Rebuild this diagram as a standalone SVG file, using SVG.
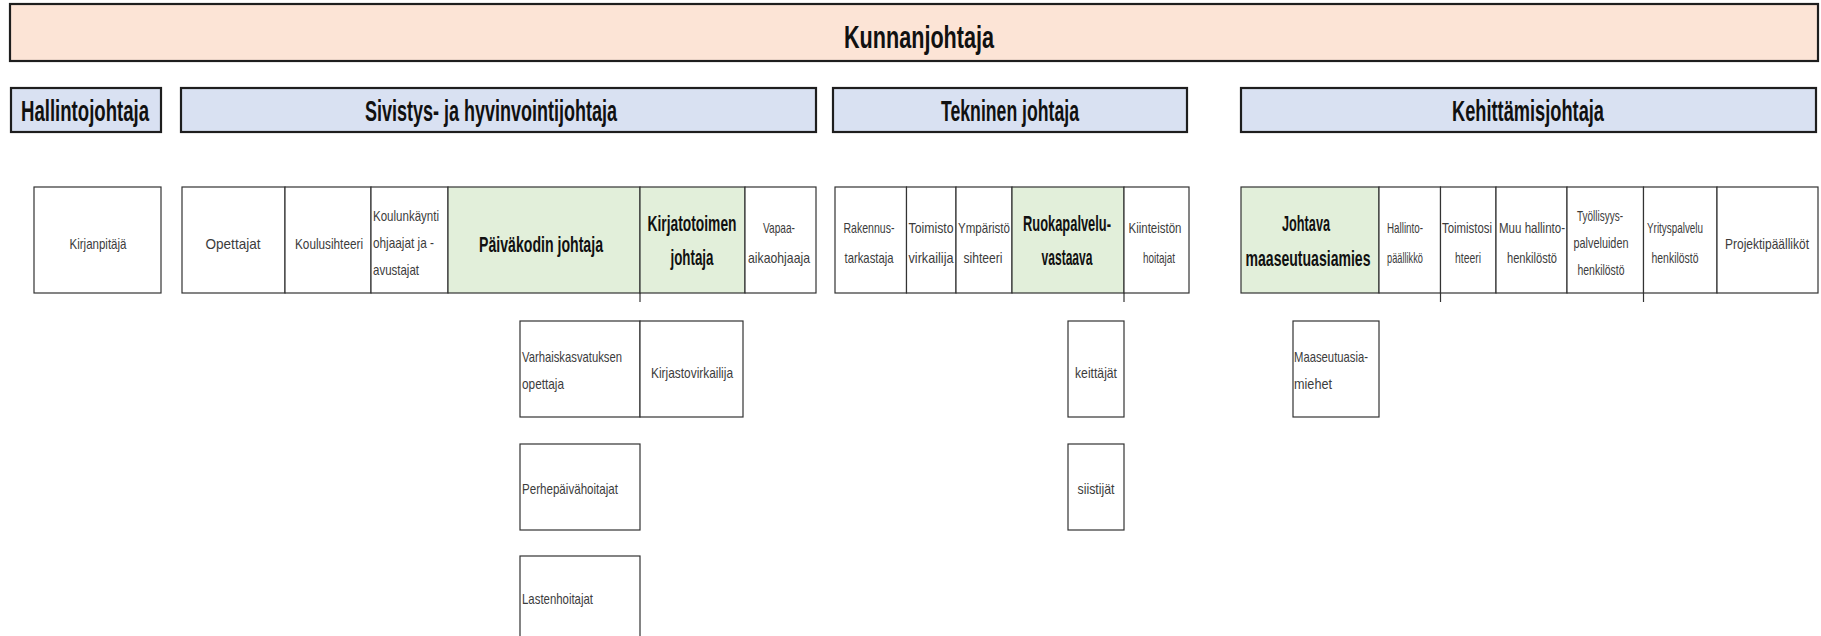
<svg xmlns="http://www.w3.org/2000/svg" width="1821" height="636" viewBox="0 0 1821 636">
<style>
.bg{fill:#ffffff}
.hdr{stroke:#1e1e1e;stroke-width:2.2}
.peach{fill:#fce4d6}
.blue{fill:#d9e1f2}
.cell{fill:#ffffff;stroke:#333333;stroke-width:1.2}
.gcell{fill:#e2efda;stroke:#333333;stroke-width:1.2}
.ht{font-family:"Liberation Sans",Arial,sans-serif;font-weight:bold;font-size:18px;fill:#111111;text-anchor:middle}
.top{font-family:"Liberation Sans",Arial,sans-serif;font-weight:bold;font-size:21.6px;fill:#111111;text-anchor:middle}
.t{font-family:"Liberation Sans",Arial,sans-serif;font-size:11.5px;fill:#3c3c3c;text-anchor:middle}
.tl{font-family:"Liberation Sans",Arial,sans-serif;font-size:11.5px;fill:#3c3c3c;text-anchor:start}
.b{font-family:"Liberation Sans",Arial,sans-serif;font-size:13.5px;font-weight:bold;fill:#111111;text-anchor:middle}
.stub{stroke:#333333;stroke-width:1.2;fill:none}
</style>
<rect class="bg" x="0" y="0" width="1821" height="636"/>

<g id="kunnanjohtaja">
<rect class="hdr peach" x="10" y="4" width="1808" height="57"/>
<text class="top" transform="translate(919,48) scale(1,1.48)" textLength="150" lengthAdjust="spacingAndGlyphs">Kunnanjohtaja</text>
</g>

<g id="hallintojohtaja">
<rect class="hdr blue" x="11" y="88" width="150" height="44"/>
<text class="ht" transform="translate(85,121) scale(1,1.6)" textLength="128" lengthAdjust="spacingAndGlyphs">Hallintojohtaja</text>
</g>
<g id="sivistysjohtaja">
<rect class="hdr blue" x="181" y="88" width="635" height="44"/>
<text class="ht" transform="translate(491,121) scale(1,1.6)" textLength="252" lengthAdjust="spacingAndGlyphs">Sivistys- ja hyvinvointijohtaja</text>
</g>
<g id="tekninenjohtaja">
<rect class="hdr blue" x="833" y="88" width="354" height="44"/>
<text class="ht" transform="translate(1010,121) scale(1,1.6)" textLength="138" lengthAdjust="spacingAndGlyphs">Tekninen johtaja</text>
</g>
<g id="kehittamisjohtaja">
<rect class="hdr blue" x="1241" y="88" width="575" height="44"/>
<text class="ht" transform="translate(1528,121) scale(1,1.6)" textLength="152" lengthAdjust="spacingAndGlyphs">Kehittämisjohtaja</text>
</g>

<g id="kirjanpitaja">
<rect class="cell" x="34" y="187" width="127" height="106"/>
<text class="t" transform="translate(98,249) scale(1,1.3)" textLength="57" lengthAdjust="spacingAndGlyphs">Kirjanpitäjä</text>
</g>

<g id="opettajat">
<rect class="cell" x="182" y="187" width="103" height="106"/>
<text class="t" transform="translate(233,249) scale(1,1.3)" textLength="55" lengthAdjust="spacingAndGlyphs">Opettajat</text>
</g>
<g id="koulusihteeri">
<rect class="cell" x="285" y="187" width="86" height="106"/>
<text class="t" transform="translate(329,249) scale(1,1.3)" textLength="68" lengthAdjust="spacingAndGlyphs">Koulusihteeri</text>
</g>
<g id="koulunkaynti">
<rect class="cell" x="371" y="187" width="77" height="106"/>
<text class="tl" transform="translate(373,221) scale(1,1.3)" textLength="66" lengthAdjust="spacingAndGlyphs">Koulunkäynti</text>
<text class="tl" transform="translate(373,248) scale(1,1.3)" textLength="61" lengthAdjust="spacingAndGlyphs">ohjaajat ja -</text>
<text class="tl" transform="translate(373,275) scale(1,1.3)" textLength="46" lengthAdjust="spacingAndGlyphs">avustajat</text>
</g>
<g id="paivakodinjohtaja">
<rect class="gcell" x="448" y="187" width="192" height="106"/>
<text class="b" transform="translate(541,252) scale(1,1.63)" textLength="124" lengthAdjust="spacingAndGlyphs">Päiväkodin johtaja</text>
</g>
<g id="kirjatotoimenjohtaja">
<rect class="gcell" x="640" y="187" width="105" height="106"/>
<text class="b" transform="translate(692,231) scale(1,1.63)" textLength="89" lengthAdjust="spacingAndGlyphs">Kirjatotoimen</text>
<text class="b" transform="translate(692,265) scale(1,1.63)" textLength="43" lengthAdjust="spacingAndGlyphs">johtaja</text>
</g>
<g id="vapaa-aikaohjaaja">
<rect class="cell" x="745" y="187" width="71" height="106"/>
<text class="t" transform="translate(779,233) scale(1,1.3)" textLength="32" lengthAdjust="spacingAndGlyphs">Vapaa-</text>
<text class="t" transform="translate(779,263) scale(1,1.3)" textLength="62" lengthAdjust="spacingAndGlyphs">aikaohjaaja</text>
</g>

<g id="rakennustarkastaja">
<rect class="cell" x="835" y="187" width="71.5" height="106"/>
<text class="t" transform="translate(869,233) scale(1,1.3)" textLength="51" lengthAdjust="spacingAndGlyphs">Rakennus-</text>
<text class="t" transform="translate(869,263) scale(1,1.3)" textLength="49" lengthAdjust="spacingAndGlyphs">tarkastaja</text>
</g>
<g id="toimistovirkailija">
<rect class="cell" x="906.5" y="187" width="49.5" height="106"/>
<text class="t" transform="translate(931,233) scale(1,1.3)" textLength="45" lengthAdjust="spacingAndGlyphs">Toimisto</text>
<text class="t" transform="translate(931,263) scale(1,1.3)" textLength="45" lengthAdjust="spacingAndGlyphs">virkailija</text>
</g>
<g id="ymparistosihteeri">
<rect class="cell" x="956" y="187" width="56" height="106"/>
<text class="t" transform="translate(984,233) scale(1,1.3)" textLength="52" lengthAdjust="spacingAndGlyphs">Ympäristö</text>
<text class="t" transform="translate(983,263) scale(1,1.3)" textLength="39" lengthAdjust="spacingAndGlyphs">sihteeri</text>
</g>
<g id="ruokapalveluvastaava">
<rect class="gcell" x="1012" y="187" width="112" height="106"/>
<text class="b" transform="translate(1067,231) scale(1,1.63)" textLength="88" lengthAdjust="spacingAndGlyphs">Ruokapalvelu-</text>
<text class="b" transform="translate(1067,265) scale(1,1.63)" textLength="51" lengthAdjust="spacingAndGlyphs">vastaava</text>
</g>
<g id="kiinteistonhoitajat">
<rect class="cell" x="1124" y="187" width="65" height="106"/>
<text class="t" transform="translate(1155,233) scale(1,1.3)" textLength="53" lengthAdjust="spacingAndGlyphs">Kiinteistön</text>
<text class="t" transform="translate(1159,263) scale(1,1.3)" textLength="32" lengthAdjust="spacingAndGlyphs">hoitajat</text>
</g>

<g id="johtavamaaseutuasiamies">
<rect class="gcell" x="1241" y="187" width="138" height="106"/>
<text class="b" transform="translate(1306,231) scale(1,1.63)" textLength="48" lengthAdjust="spacingAndGlyphs">Johtava</text>
<text class="b" transform="translate(1308,266) scale(1,1.63)" textLength="125" lengthAdjust="spacingAndGlyphs">maaseutuasiamies</text>
</g>
<g id="hallintopaallikko">
<rect class="cell" x="1379" y="187" width="61.5" height="106"/>
<text class="t" transform="translate(1405,233) scale(1,1.3)" textLength="36" lengthAdjust="spacingAndGlyphs">Hallinto-</text>
<text class="t" transform="translate(1405,263) scale(1,1.3)" textLength="36" lengthAdjust="spacingAndGlyphs">päällikkö</text>
</g>
<g id="toimistosihteeri">
<rect class="cell" x="1440.5" y="187" width="55.5" height="106"/>
<text class="t" transform="translate(1467,233) scale(1,1.3)" textLength="50" lengthAdjust="spacingAndGlyphs">Toimistosi</text>
<text class="t" transform="translate(1468,263) scale(1,1.3)" textLength="26" lengthAdjust="spacingAndGlyphs">hteeri</text>
</g>
<g id="muuhallintohenkilosto">
<rect class="cell" x="1496" y="187" width="71" height="106"/>
<text class="t" transform="translate(1532,233) scale(1,1.3)" textLength="66" lengthAdjust="spacingAndGlyphs">Muu hallinto-</text>
<text class="t" transform="translate(1532,263) scale(1,1.3)" textLength="50" lengthAdjust="spacingAndGlyphs">henkilöstö</text>
</g>
<g id="tyollisyyspalvelut">
<rect class="cell" x="1567" y="187" width="76.5" height="106"/>
<text class="t" transform="translate(1600,221) scale(1,1.3)" textLength="46" lengthAdjust="spacingAndGlyphs">Työllisyys-</text>
<text class="t" transform="translate(1601,248) scale(1,1.3)" textLength="55" lengthAdjust="spacingAndGlyphs">palveluiden</text>
<text class="t" transform="translate(1601,275) scale(1,1.3)" textLength="47" lengthAdjust="spacingAndGlyphs">henkilöstö</text>
</g>
<g id="yrityspalveluhenkilosto">
<rect class="cell" x="1643.5" y="187" width="73.5" height="106"/>
<text class="t" transform="translate(1675,233) scale(1,1.3)" textLength="56" lengthAdjust="spacingAndGlyphs">Yrityspalvelu</text>
<text class="t" transform="translate(1675,263) scale(1,1.3)" textLength="47" lengthAdjust="spacingAndGlyphs">henkilöstö</text>
</g>
<g id="projektipaallikot">
<rect class="cell" x="1717" y="187" width="101" height="106"/>
<text class="t" transform="translate(1767,249) scale(1,1.3)" textLength="84" lengthAdjust="spacingAndGlyphs">Projektipäälliköt</text>
</g>

<g id="varhaiskasvatuksenopettaja">
<rect class="cell" x="520" y="321" width="120" height="96"/>
<text class="tl" transform="translate(522,362) scale(1,1.3)" textLength="100" lengthAdjust="spacingAndGlyphs">Varhaiskasvatuksen</text>
<text class="tl" transform="translate(522,389) scale(1,1.3)" textLength="42" lengthAdjust="spacingAndGlyphs">opettaja</text>
</g>
<g id="kirjastovirkailija">
<rect class="cell" x="640" y="321" width="103" height="96"/>
<text class="t" transform="translate(692,378) scale(1,1.3)" textLength="82" lengthAdjust="spacingAndGlyphs">Kirjastovirkailija</text>
</g>
<g id="perhepaivahoitajat">
<rect class="cell" x="520" y="444" width="120" height="86"/>
<text class="tl" transform="translate(522,494) scale(1,1.3)" textLength="96" lengthAdjust="spacingAndGlyphs">Perhepäivähoitajat</text>
</g>
<g id="lastenhoitajat">
<rect class="cell" x="520" y="556" width="120" height="100"/>
<text class="tl" transform="translate(522,604) scale(1,1.3)" textLength="71" lengthAdjust="spacingAndGlyphs">Lastenhoitajat</text>
</g>
<g id="keittajat">
<rect class="cell" x="1068" y="321" width="56" height="96"/>
<text class="t" transform="translate(1096,378) scale(1,1.3)" textLength="42" lengthAdjust="spacingAndGlyphs">keittäjät</text>
</g>
<g id="siistijat">
<rect class="cell" x="1068" y="444" width="56" height="86"/>
<text class="t" transform="translate(1096,494) scale(1,1.3)" textLength="37" lengthAdjust="spacingAndGlyphs">siistijät</text>
</g>
<g id="maaseutuasiamiehet">
<rect class="cell" x="1293" y="321" width="86" height="96"/>
<text class="tl" transform="translate(1294,362) scale(1,1.3)" textLength="74" lengthAdjust="spacingAndGlyphs">Maaseutuasia-</text>
<text class="tl" transform="translate(1294,389) scale(1,1.3)" textLength="38" lengthAdjust="spacingAndGlyphs">miehet</text>
</g>

<g id="connectors">
<line class="stub" x1="640" y1="293" x2="640" y2="302"/>
<line class="stub" x1="1124" y1="293" x2="1124" y2="302"/>
<line class="stub" x1="1440.5" y1="293" x2="1440.5" y2="302"/>
<line class="stub" x1="1643.5" y1="293" x2="1643.5" y2="302"/>
</g>
</svg>
